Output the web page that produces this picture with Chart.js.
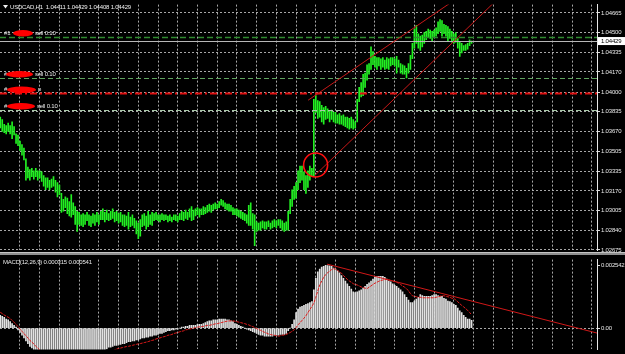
<!DOCTYPE html>
<html><head><meta charset="utf-8">
<script src="https://cdn.jsdelivr.net/npm/chart.js@4.4.1/dist/chart.umd.min.js"></script>
<style>
html,body{margin:0;padding:0;background:#000;width:625px;height:354px;overflow:hidden}
canvas{position:absolute;left:0;display:block}
#p{top:0}
#m{top:255px}
</style></head><body>
<canvas id="p" width="625" height="255"></canvas>
<canvas id="m" width="625" height="99"></canvas>
<script>
// ---------- DATA ----------
const symbol = 'USDCAD,H1';
const lastOHLC = [1.04411, 1.04429, 1.04408, 1.04429];

const highs = [
1.0379,1.0377,1.0373,1.0372,1.0374,1.0372,1.0375,1.0371,1.0365,1.0364,
1.0359,1.0356,1.0353,1.0344,1.0337,1.0335,1.0336,1.0334,1.0336,1.0334,
1.0334,1.0333,1.0330,1.0328,1.0328,1.0326,1.0327,1.0329,1.0326,1.0324,
1.0322,1.0315,1.0310,1.0312,1.0311,1.0308,1.0314,1.0307,1.0304,1.0300,
1.0299,1.0297,1.0298,1.0297,1.0299,1.0297,1.0296,1.0298,1.0297,1.0299,
1.0297,1.0300,1.0302,1.0299,1.0301,1.0298,1.0300,1.0302,1.0299,1.0300,
1.0298,1.0299,
1.0297,1.0297,1.0296,1.0299,1.0295,1.0297,1.0294,1.0292,1.0290,1.0293,
1.0297,1.0298,1.0296,1.0300,1.0297,1.0299,1.0298,1.0299,1.0297,1.0297,
1.0298,1.0297,1.0297,1.0296,1.0297,1.0295,1.0297,1.0297,1.0296,1.0298,
1.0300,1.0299,1.0301,1.0299,1.0302,1.0304,1.0301,1.0302,1.0303,1.0302,
1.0302,1.0304,1.0303,1.0305,1.0306,1.0305,1.0306,1.0307,1.0306,1.0308,
1.0310,1.0309,1.0307,1.0306,1.0306,1.0305,1.0303,1.0302,1.0302,1.0301,
1.0300,1.0299,1.0298,1.0297,1.0305,1.0307,1.0298,1.0297,1.0291,1.0290,
1.0291,1.0292,1.0291,
1.0291,1.0292,1.0290,1.0292,1.0293,1.0292,1.0293,1.0293,
1.0292,1.0290,1.0291,1.0300,1.0310,1.0318,1.0321,1.0324,1.0334,1.0338,
1.0338,1.0333,1.0330,1.0334,1.0338,1.0336,1.0394,1.0397,1.0393,1.0392,
1.0389,1.0387,1.0388,1.0386,1.0384,1.0385,1.0383,1.0383,1.0381,1.0382,
1.0380,1.0381,1.0379,1.0379,1.0378,1.0379,1.0377,1.0375,1.0394,1.0404,
1.0408,1.0415,1.0416,1.0423,1.0424,1.0438,1.0434,1.0430,1.0429,1.0429,
1.0428,1.0429,1.0427,1.0429,1.0428,1.0429,1.0429,1.0428,1.0430,1.0427,
1.0424,1.0423,1.0422,1.0420,1.0424,1.0431,1.0441,1.0453,1.0456,1.0449,
1.0447,1.0448,1.0450,1.0451,1.0453,1.0452,1.0451,1.0452,1.0454,1.0459,
1.0461,1.0460,1.0457,1.0456,1.0455,1.0453,1.0451,1.0449,1.0450,1.0445,
1.0442,1.0441,1.0439,1.0440,1.0441,1.0444,1.04429
];
const lows = [
1.0370,1.0367,1.0366,1.0365,1.0367,1.0365,1.0361,1.0364,1.0357,1.0355,
1.0351,1.0347,1.0343,1.0326,1.0328,1.0326,1.0329,1.0327,1.0329,1.0326,
1.0328,1.0325,1.0321,1.0318,1.0320,1.0318,1.0320,1.0321,1.0316,1.0312,
1.0314,1.0299,1.0300,1.0303,1.0298,1.0296,1.0295,1.0297,1.0289,1.0283,
1.0289,1.0288,1.0287,1.0289,1.0292,1.0288,1.0287,1.0290,1.0288,1.0291,
1.0289,1.0293,1.0293,1.0291,1.0293,1.0292,1.0293,1.0294,1.0291,1.0292,
1.0290,1.0291,
1.0288,1.0287,1.0288,1.0285,1.0287,1.0288,1.0286,1.0281,1.0277,1.0279,
1.0287,1.0288,1.0285,1.0287,1.0289,1.0288,1.0292,1.0293,1.0292,1.0291,
1.0293,1.0292,1.0293,1.0291,1.0292,1.0291,1.0293,1.0292,1.0291,1.0293,
1.0293,1.0292,1.0294,1.0293,1.0295,1.0292,1.0293,1.0296,1.0297,1.0295,
1.0297,1.0297,1.0298,1.0299,1.0300,1.0299,1.0301,1.0302,1.0302,1.0303,
1.0305,1.0304,1.0302,1.0301,1.0300,1.0300,1.0297,1.0297,1.0296,1.0295,
1.0294,1.0293,1.0292,1.0290,1.0288,1.0288,1.0285,1.0271,1.0283,1.0284,
1.0284,1.0286,1.0285,
1.0285,1.0287,1.0285,1.0286,1.0287,1.0286,1.0288,1.0286,
1.0284,1.0283,1.0284,1.0284,1.0298,1.0304,1.0310,1.0311,1.0318,1.0324,
1.0326,1.0318,1.0315,1.0320,1.0326,1.0329,1.0329,1.0383,1.0378,1.0379,
1.0375,1.0373,1.0377,1.0378,1.0375,1.0377,1.0375,1.0374,1.0374,1.0373,
1.0373,1.0372,1.0371,1.0370,1.0369,1.0370,1.0369,1.0370,1.0375,1.0392,
1.0396,1.0397,1.0404,1.0410,1.0415,1.0419,1.0423,1.0421,1.0419,1.0422,
1.0419,1.0421,1.0419,1.0420,1.0419,1.0422,1.0423,1.0422,1.0416,1.0421,
1.0416,1.0415,1.0415,1.0412,1.0416,1.0419,1.0428,1.0437,1.0441,1.0437,
1.0435,1.0438,1.0441,1.0444,1.0446,1.0445,1.0443,1.0446,1.0447,1.0449,
1.0451,1.0447,1.0449,1.0447,1.0443,1.0445,1.0442,1.0441,1.0442,1.0437,
1.0430,1.0433,1.0435,1.0435,1.0436,1.0439,1.04408
];
const macd = [
0.00052,0.00048,0.00044,0.00037,0.00033,0.00026,0.00018,0.00011,0.00004,-0.00007,
-0.00018,-0.00029,-0.00040,-0.00052,-0.00063,-0.00074,-0.00081,-0.00088,-0.00092,-0.00096,
-0.00099,-0.00103,-0.00107,-0.00110,-0.00114,-0.00118,-0.00121,-0.00125,-0.00129,-0.00132,
-0.00136,-0.00140,-0.00144,-0.00147,-0.00151,-0.00151,-0.00155,-0.00155,-0.00155,-0.00151,
-0.00151,-0.00147,-0.00144,-0.00136,-0.00132,-0.00129,-0.00121,-0.00118,-0.00110,-0.00107,
-0.00103,-0.00096,-0.00092,-0.00088,-0.00085,-0.00077,-0.00077,-0.00074,-0.00070,-0.00070,
-0.00066,-0.00066,-0.00063,-0.00063,-0.00059,-0.00055,-0.00055,-0.00052,-0.00052,-0.00048,
-0.00048,-0.00044,-0.00040,-0.00040,-0.00037,-0.00037,-0.00033,-0.00033,-0.00029,-0.00029,
-0.00026,-0.00022,-0.00022,-0.00018,-0.00015,-0.00011,-0.00011,-0.00007,-0.00007,-0.00004,
-0.00004,0.00000,0.00004,0.00004,0.00007,0.00007,0.00011,0.00011,0.00011,0.00011,
0.00015,0.00015,
0.00015,0.00018,0.00022,0.00026,0.00029,0.00029,0.00033,0.00033,0.00033,
0.00037,0.00037,0.00037,0.00037,0.00033,0.00033,0.00029,0.00026,0.00018,0.00015,
0.00011,0.00007,0.00004,0.00000,-0.00004,-0.00007,-0.00011,-0.00015,-0.00018,-0.00022,
-0.00026,-0.00029,-0.00029,-0.00033,-0.00033,-0.00033,-0.00033,-0.00033,-0.00029,-0.00029,
-0.00029,-0.00026,-0.00026,-0.00026,-0.00022,-0.00011,0.00000,0.00015,0.00033,0.00063,
0.00077,0.00085,0.00088,0.00092,0.00096,0.00099,0.00103,0.00107,0.00155,0.00202,
0.00228,0.00239,0.00247,0.00250,0.002542,0.00254,0.00253,0.00250,0.00243,0.00239,
0.00232,0.00224,0.00213,0.00202,0.00191,0.00180,0.00169,0.00158,0.00147,0.00144,
0.00147,0.00151,0.00155,0.00162,0.00169,0.00177,0.00184,0.00191,0.00199,0.00206,
0.00210,0.00210,0.00210,0.00210,0.00206,0.00199,0.00191,0.00188,0.00180,0.00173,
0.00169,0.00162,0.00155,0.00147,0.00136,0.00125,0.00114,0.00103,0.00103,0.00110,
0.00118,0.00125,0.00136,0.00132,0.00129,0.00129,0.00129,0.00129,0.00132,0.00136,
0.00136,0.00132,0.00129,0.00129,0.00121,0.00118,0.00110,0.00107,0.00103,0.00096,
0.00092,0.00081,0.00070,0.00063,0.00052,0.00044,0.00037,0.00037,0.000315
];
const signal = [
0.00064,0.00059,0.00053,0.00048,0.00044,0.00039,0.00031,0.00024,0.00015,0.00006,
-0.00004,-0.00013,-0.00022,-0.00031,-0.00040,-0.00050,-0.00057,-0.00064,-0.00074,-0.00081,
-0.00088,-0.00096,-0.00101,-0.00107,-0.00112,-0.00118,-0.00121,-0.00125,-0.00129,-0.00132,
-0.00136,-0.00140,-0.00144,-0.00147,-0.00149,-0.00151,-0.00153,-0.00155,-0.00155,-0.00155,
-0.00155,-0.00153,-0.00151,-0.00149,-0.00147,-0.00144,-0.00140,-0.00136,-0.00132,-0.00129,
-0.00125,-0.00121,-0.00118,-0.00114,-0.00110,-0.00107,-0.00101,-0.00096,-0.00088,-0.00085,
-0.00083,-0.00081,-0.00079,-0.00077,-0.00075,-0.00074,-0.00072,-0.00070,-0.00068,-0.00066,
-0.00064,-0.00063,-0.00061,-0.00059,-0.00057,-0.00055,-0.00052,-0.00050,-0.00048,-0.00044,
-0.00042,-0.00040,-0.00037,-0.00035,-0.00033,-0.00029,-0.00028,-0.00026,-0.00022,-0.00020,
-0.00018,-0.00015,-0.00013,-0.00011,-0.00007,-0.00006,-0.00004,-0.00002,0.00000,0.00002,
0.00004,0.00005,
0.00006,0.00007,0.00009,0.00011,0.00011,0.00013,0.00015,0.00017,0.00018,
0.00020,0.00022,0.00024,0.00026,0.00028,0.00029,0.00029,0.00029,0.00028,0.00026,
0.00024,0.00022,0.00020,0.00018,0.00015,0.00013,0.00009,0.00006,0.00002,-0.00002,
-0.00006,-0.00009,-0.00013,-0.00017,-0.00020,-0.00024,-0.00026,-0.00028,-0.00029,-0.00031,
-0.00033,-0.00031,-0.00029,-0.00028,-0.00026,-0.00022,-0.00018,-0.00013,-0.00007,0.00002,
0.00013,0.00022,0.00031,0.00040,0.00050,0.00063,0.00075,0.00088,0.00101,0.00125,
0.00151,0.00175,0.00191,0.00206,0.00217,0.00224,0.00232,0.00237,0.00241,0.00239,
0.00234,0.00228,0.00223,0.00213,0.00206,0.00197,0.00191,0.00186,0.00180,0.00177,
0.00175,0.00171,0.00167,0.00164,0.00162,0.00160,0.00166,0.00171,0.00177,0.00182,
0.00186,0.00190,0.00193,0.00195,0.00197,0.00197,0.00195,0.00193,0.00191,0.00188,
0.00186,0.00182,0.00177,0.00171,0.00166,0.00160,0.00151,0.00140,0.00131,0.00129,
0.00127,0.00125,0.00125,0.00123,0.00123,0.00123,0.00123,0.00123,0.00123,0.00123,
0.00125,0.00127,0.00129,0.00131,0.00131,0.00129,0.00127,0.00125,0.00121,0.00120,
0.00114,0.00107,0.00099,0.00092,0.00086,0.00079,0.00072,0.00063,0.000541
];
const priceTicks = [1.04665,1.04500,1.04335,1.04170,1.04000,1.03835,1.03670,1.03505,1.03335,1.03170,1.03005,1.02840,1.02675];
const macdTicks = [0, 0.002542];
// order levels and their label parts
const orderLevels = [1.04465, 1.04121, 1.03990, 1.03852];
const orderPrefix = ['#1', '#', '#', '#'];
const orderSuffix = ['sell 0.10', 'sell 0.10', 'p', 'sell 0.10'];
// drawn objects (bar index, price / value)
const trendUpper = [[156.1, 1.03932], [227.0, 1.04735]];
const trendLower = [[159.6, 1.03302], [248.3, 1.04719]];
const circleMark = [159.9, 1.03388];
const macdTrend = [[165.7, 0.002594], [302.6, -0.000202]];

// ---------- layout ----------
const XMIN = -0.14, XMAX = 302.6;
const PMIN = 1.02671, PMAX = 1.04735;
const MMIN = -0.000865, MMAX = 0.002778;
const xGridVals = Array.from({length: 30}, (_, k) => (k + 1) * 10);
const GRID = 'rgba(185,185,185,0.9)';
const FONT = '"Liberation Sans", Arial, sans-serif';
const FS = 6;
const TXT = '#e8e8e8';

function xScale() {
  return {
    type: 'linear', min: XMIN, max: XMAX, offset: false,
    afterBuildTicks: s => { s.ticks = xGridVals.map(v => ({value: v})); },
    afterFit: s => { s.height = 0; },
    ticks: {display: false},
    grid: {color: GRID, drawTicks: false, offset: false, lineWidth: 1},
    border: {display: false, dash: [2, 2]}
  };
}

const bgPlugin = {
  id: 'bg',
  beforeDraw(c) {
    const ctx = c.ctx;
    ctx.letterSpacing = '-0.2px';
    ctx.save();
    ctx.fillStyle = '#000'; ctx.fillRect(0, 0, c.width, c.height);
    if (c.canvas.id === 'p') {
      ctx.fillStyle = '#8f8f8f'; ctx.fillRect(0, 252, c.width, 3);
      ctx.fillStyle = '#c4c4c4'; ctx.fillRect(0, 252, c.width, 1);
    }
    ctx.restore();
  }
};

function lineThrough(ctx, x, y, p0, p1) {
  const x0 = x.getPixelForValue(p0[0]), y0 = y.getPixelForValue(p0[1]);
  const x1 = x.getPixelForValue(p1[0]), y1 = y.getPixelForValue(p1[1]);
  const k = 3;
  ctx.beginPath(); ctx.moveTo(x0, y0);
  ctx.lineTo(x0 + (x1 - x0) * k, y0 + (y1 - y0) * k);
  ctx.stroke();
}

const priceOverlay = {
  id: 'priceOverlay',
  afterDatasetsDraw(c) {
    const {ctx, chartArea: a, scales: {x, y}} = c;
    ctx.save();
    ctx.beginPath(); ctx.rect(a.left, a.top, a.right - a.left, a.bottom - a.top); ctx.clip();
    // bid line
    const by = Math.round(y.getPixelForValue(lastOHLC[3])) + 0.5;
    ctx.strokeStyle = '#b8b8b8'; ctx.lineWidth = 1; ctx.setLineDash([]);
    ctx.beginPath(); ctx.moveTo(a.left, by); ctx.lineTo(a.right, by); ctx.stroke();
    // order lines
    const styles = [
      {c: '#2f8a2f', w: 1.5, d: [6, 3]},
      {c: '#5fa35f', w: 1, d: [5, 3]},
      {c: '#e01010', w: 2, d: [7, 3, 2, 3]},
      {c: '#a9c9a9', w: 1, d: [5, 3]}
    ];
    orderLevels.forEach((p, k) => {
      const s = styles[k];
      const py = Math.round(y.getPixelForValue(p)) + 0.5;
      ctx.strokeStyle = s.c; ctx.lineWidth = s.w; ctx.setLineDash(s.d);
      ctx.beginPath(); ctx.moveTo(a.left, py); ctx.lineTo(a.right, py); ctx.stroke();
    });
    ctx.setLineDash([]);
    // trend channel
    ctx.strokeStyle = '#c81818'; ctx.lineWidth = 1;
    lineThrough(ctx, x, y, trendUpper[0], trendUpper[1]);
    lineThrough(ctx, x, y, trendLower[0], trendLower[1]);
    // circle
    ctx.strokeStyle = '#ff1010'; ctx.lineWidth = 1.6;
    ctx.beginPath();
    ctx.arc(x.getPixelForValue(circleMark[0]), y.getPixelForValue(circleMark[1]), 12, 0, Math.PI * 2);
    ctx.stroke();
    ctx.restore();

    // order labels
    ctx.save();
    ctx.font = FS + 'px ' + FONT; ctx.textBaseline = 'middle';
    const blobs = [[13, 33], [6, 33], [7, 36], [7, 35]];
    orderLevels.forEach((p, k) => {
      const py = y.getPixelForValue(p) - 3.5;
      ctx.fillStyle = TXT; ctx.textAlign = 'left';
      ctx.fillText(orderPrefix[k], 4, py);
      ctx.fillStyle = '#ff0000';
      const [b0, b1] = blobs[k];
      ctx.beginPath();
      ctx.ellipse((b0 + b1) / 2, py, (b1 - b0) / 2, 3.3, 0, 0, Math.PI * 2);
      ctx.fill();
      ctx.fillStyle = TXT;
      ctx.fillText(orderSuffix[k], b1 + 2, py);
    });
    // title
    ctx.fillStyle = '#f0f0f0';
    ctx.beginPath(); ctx.moveTo(3, 5); ctx.lineTo(8, 5); ctx.lineTo(5.5, 8.5); ctx.closePath(); ctx.fill();
    ctx.fillText(symbol + '  ' + lastOHLC.map(v => v.toFixed(5)).join(' '), 10, 7);
    ctx.restore();
  },
  afterDraw(c) {
    const {ctx, chartArea: a, scales: {y}} = c;
    const by = y.getPixelForValue(lastOHLC[3]);
    ctx.save();
    ctx.fillStyle = '#ffffff';
    ctx.fillRect(a.right + 1, by - 4, c.width - a.right - 1, 8);
    ctx.fillStyle = '#000'; ctx.font = FS + 'px ' + FONT; ctx.textBaseline = 'middle';
    ctx.fillText(lastOHLC[3].toFixed(5), a.right + 4, by + 0.5);
    ctx.restore();
  }
};

new Chart(document.getElementById('p'), {
  type: 'bar',
  data: {datasets: [{
    data: highs.map((h, i) => ({x: i, y: [lows[i], h]})),
    backgroundColor: '#22f022', borderWidth: 0, barThickness: 1, grouped: false
  }]},
  options: {
    responsive: false, animation: false, events: [],
    layout: {padding: {left: 0, right: 0, top: 0, bottom: 3}},
    plugins: {legend: {display: false}, tooltip: {enabled: false}},
    scales: {
      x: xScale(),
      y: {
        position: 'right', min: PMIN, max: PMAX,
        afterBuildTicks: s => { s.ticks = priceTicks.map(v => ({value: v})); },
        afterFit: s => { s.width = 28; },
        ticks: {color: TXT, font: {family: FONT, size: FS}, padding: 1, autoSkip: false,
                callback: v => Number(v).toFixed(5)},
        grid: {color: GRID, lineWidth: 1, drawTicks: true, tickLength: 3, tickColor: '#dcdcdc', tickBorderDash: []},
        border: {display: true, color: '#e8e8e8', width: 1, dash: [2, 2]}
      }
    }
  },
  plugins: [bgPlugin, priceOverlay]
});

const macdOverlay = {
  id: 'macdOverlay',
  afterDatasetsDraw(c) {
    const {ctx, chartArea: a, scales: {x, y}} = c;
    ctx.save();
    ctx.beginPath(); ctx.rect(a.left, a.top, a.right - a.left, a.bottom - a.top); ctx.clip();
    ctx.strokeStyle = '#d01818'; ctx.lineWidth = 1;
    const x0 = x.getPixelForValue(macdTrend[0][0]), y0 = y.getPixelForValue(macdTrend[0][1]);
    const x1 = x.getPixelForValue(macdTrend[1][0]), y1 = y.getPixelForValue(macdTrend[1][1]);
    ctx.beginPath(); ctx.moveTo(x0, y0); ctx.lineTo(x1, y1); ctx.stroke();
    ctx.restore();
    ctx.save();
    ctx.fillStyle = TXT; ctx.font = FS + 'px ' + FONT; ctx.textBaseline = 'middle';
    const n = macd.length - 1;
    ctx.fillText('MACD(12,26,9) ' + macd[n].toFixed(6) + ' ' + signal[n].toFixed(6), 3, 7.5);
    ctx.restore();
  }
};

new Chart(document.getElementById('m'), {
  type: 'bar',
  data: {datasets: [
    {type: 'line', data: signal.map((v, i) => ({x: i, y: v})), borderColor: '#e01a1a', borderWidth: 1,
     borderDash: [3, 1], pointRadius: 0, tension: 0, order: 0},
    {type: 'bar', data: macd.map((v, i) => ({x: i, y: v})), backgroundColor: '#e2e2e2', borderWidth: 0,
     barThickness: 1, grouped: false, order: 1}
  ]},
  options: {
    responsive: false, animation: false, events: [],
    layout: {padding: 0},
    plugins: {legend: {display: false}, tooltip: {enabled: false}},
    scales: {
      x: xScale(),
      y: {
        position: 'right', min: MMIN, max: MMAX,
        afterBuildTicks: s => { s.ticks = macdTicks.map(v => ({value: v})); },
        afterFit: s => { s.width = 28; },
        ticks: {color: TXT, font: {family: FONT, size: FS}, padding: 1, autoSkip: false,
                callback: v => (v === 0 ? '0.00' : Number(v).toFixed(6))},
        grid: {color: c => (c.tick && c.tick.value === 0 ? GRID : 'rgba(0,0,0,0)'), lineWidth: 1,
               drawTicks: true, tickLength: 3, tickColor: '#dcdcdc', tickBorderDash: []},
        border: {display: true, color: '#e8e8e8', width: 1, dash: [2, 2]}
      }
    }
  },
  plugins: [bgPlugin, macdOverlay]
});
</script>
</body></html>
